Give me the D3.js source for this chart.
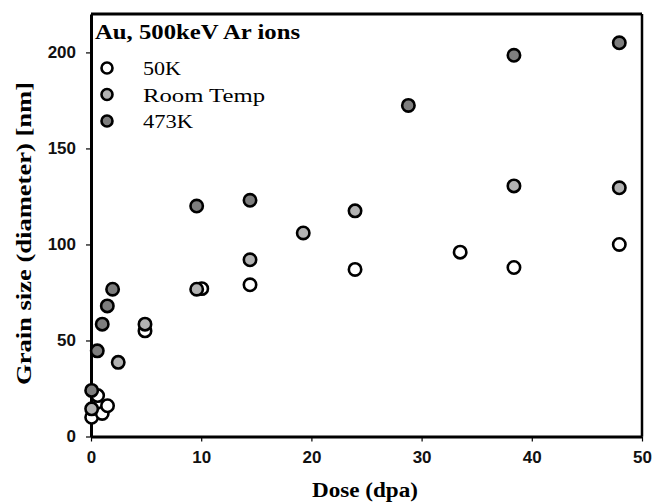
<!DOCTYPE html>
<html><head><meta charset="utf-8">
<script src="https://cdn.jsdelivr.net/npm/d3@7"></script>
<style>body{margin:0;background:#fff}svg{display:block}</style>
</head><body>
<svg id="c" width="652" height="504"></svg>
<script>
const seriesNames = ["50K", "Room Temp", "473K"];
const seriesFills = ["#ffffff", "#b2b2b2", "#7e7e7e"];
const dose50K = [0.06, 1.02, 0.6, 1.5, 4.9, 10.05, 14.43, 23.96, 33.5, 38.38, 47.94];
const size50K = [10, 12, 21.3, 16, 55, 77, 79, 87, 96, 88, 100];
const doseRT = [0.06, 2.47, 4.9, 9.59, 14.43, 19.26, 23.96, 38.38, 47.94];
const sizeRT = [14.4, 38.6, 58.5, 76.7, 92, 106, 117.5, 130.5, 129.5];
const dose473 = [0.06, 0.57, 1.02, 1.48, 1.96, 9.59, 14.43, 28.8, 38.38, 47.94];
const size473 = [24, 44.6, 58.5, 68, 76.7, 120, 123, 172.4, 198.5, 205];
const xTicks = [0, 10, 20, 30, 40, 50];
const yTicks = [0, 50, 100, 150, 200];
const titleText = "Au, 500keV Ar ions";
const xLabel = "Dose (dpa)";
const yLabel = "Grain size (diameter) [nm]";

const svg = d3.select("#c");
const L = 91, R = 642, T = 14, B = 436.5;
const x = d3.scaleLinear().domain([0, 50]).range([L, R]);
const y = d3.scaleLinear().domain([0, 220]).range([B, T]);

// y axis
const gy = svg.append("g").attr("transform", `translate(${L},0)`)
  .call(d3.axisLeft(y).tickValues(yTicks).tickSize(5).tickSizeOuter(0).tickPadding(10).tickFormat(d3.format("d")));
gy.select(".domain").attr("stroke-width", 3).attr("stroke", "#000");
gy.selectAll(".tick line").attr("stroke-width", 1.2);
gy.selectAll(".tick text").attr("font-family", "Liberation Sans, Arial, sans-serif")
  .attr("font-size", 17).attr("font-weight", "bold").attr("fill", "#111");

// x axis
const gx = svg.append("g").attr("transform", `translate(0,${B})`)
  .call(d3.axisBottom(x).tickValues(xTicks).tickSize(5).tickSizeOuter(0).tickPadding(9).tickFormat(d3.format("d")));
gx.select(".domain").attr("stroke-width", 3).attr("stroke", "#000");
gx.selectAll(".tick line").attr("stroke-width", 1.2);
gx.selectAll(".tick text").attr("font-family", "Liberation Sans, Arial, sans-serif")
  .attr("font-size", 17).attr("font-weight", "bold").attr("fill", "#111");

// top & right border
svg.append("line").attr("x1", L).attr("x2", R).attr("y1", T).attr("y2", T)
  .attr("stroke", "#000").attr("stroke-width", 3);
svg.append("line").attr("x1", R).attr("x2", R).attr("y1", T).attr("y2", B)
  .attr("stroke", "#000").attr("stroke-width", 2.5);

// data
const series = [
  {xs: dose50K, ys: size50K},
  {xs: doseRT, ys: sizeRT},
  {xs: dose473, ys: size473}
];
series.forEach((s, i) => {
  svg.append("g").selectAll("circle")
    .data(s.xs.map((d, j) => [d, s.ys[j]]))
    .join("circle")
    .attr("cx", d => x(d[0])).attr("cy", d => y(d[1]))
    .attr("r", 6.2).attr("fill", seriesFills[i])
    .attr("stroke", "#000").attr("stroke-width", 2.6);
});

// legend
svg.append("text").attr("x", 95).attr("y", 39)
  .attr("font-family", "Liberation Serif, Times New Roman, serif")
  .attr("font-size", 21).attr("font-weight", "bold")
  .attr("textLength", 205).attr("lengthAdjust", "spacingAndGlyphs")
  .text(titleText);
const legendRows = [68, 94.5, 121];
const legendLens = [38, 122, 50];
seriesNames.forEach((n, i) => {
  svg.append("circle").attr("cx", 107).attr("cy", legendRows[i]).attr("r", 5.5)
    .attr("fill", seriesFills[i]).attr("stroke", "#000").attr("stroke-width", 2.6);
  svg.append("text").attr("x", 143).attr("y", legendRows[i] + 7)
    .attr("font-family", "Liberation Serif, Times New Roman, serif")
    .attr("font-size", 18).attr("textLength", legendLens[i]).attr("lengthAdjust", "spacingAndGlyphs")
    .text(n);
});

// axis titles
svg.append("text").attr("x", 365).attr("y", 497).attr("text-anchor", "middle")
  .attr("font-family", "Liberation Serif, Times New Roman, serif")
  .attr("font-size", 20).attr("font-weight", "bold")
  .attr("textLength", 106).attr("lengthAdjust", "spacingAndGlyphs")
  .text(xLabel);
svg.append("text").attr("transform", "translate(31,233.5) rotate(-90)").attr("text-anchor", "middle")
  .attr("font-family", "Liberation Serif, Times New Roman, serif")
  .attr("font-size", 20).attr("font-weight", "bold")
  .attr("textLength", 303).attr("lengthAdjust", "spacingAndGlyphs")
  .text(yLabel);
</script>
</body></html>
